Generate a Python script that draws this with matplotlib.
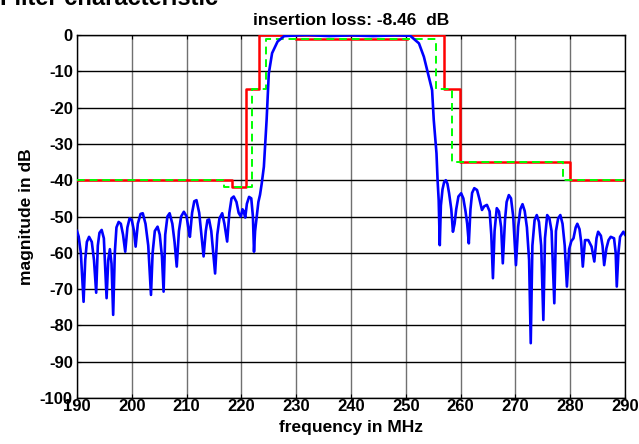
import numpy as np
import matplotlib
matplotlib.use('Agg')
import matplotlib.pyplot as plt

plt.rcParams['font.family'] = ['Liberation Sans', 'DejaVu Sans']
plt.rcParams['font.weight'] = 'bold'
plt.rcParams['axes.unicode_minus'] = False

# -------------------- data --------------------
# measured response (blue): frequency in MHz / magnitude in dB
freq = [190.0, 190.3, 190.7, 191.2, 191.5, 191.8, 192.2, 192.7, 193.1, 193.5,
        193.8, 194.1, 194.5, 194.9, 195.4, 195.7, 196.0, 196.3, 196.6, 196.9,
        197.2, 197.6, 198.0, 198.4, 198.8, 199.2, 199.6, 200.0, 200.4, 200.7,
        201.1, 201.6, 202.0, 202.5, 203.0, 203.5, 203.8, 204.2, 204.7, 205.1,
        205.5, 205.8, 206.1, 206.5, 206.9, 207.4, 207.8, 208.2, 208.6, 209.0,
        209.5, 210.0, 210.3, 210.6, 211.0, 211.4, 211.8, 212.3, 212.7, 213.1,
        213.5, 213.8, 214.1, 214.5, 215.2, 215.6, 216.0, 216.5, 216.9, 217.4,
        217.8, 218.2, 218.6, 219.1, 219.5, 219.9, 220.2, 220.4, 220.7, 221.0,
        221.4, 221.8, 222.1, 222.3, 222.5, 222.8, 223.1, 223.4, 223.7, 224.1,
        224.6, 225.0, 225.6, 226.6, 227.8, 229.0, 232.0, 236.0, 240.0, 244.0,
        248.0, 250.8, 252.4, 253.3, 254.2, 254.8, 255.1, 255.6, 255.8, 256.0,
        256.2, 256.4, 256.7, 257.0, 257.3, 257.6, 257.9, 258.3, 258.6, 258.9,
        259.2, 259.6, 260.1, 260.5, 260.9, 261.2, 261.5, 261.8, 262.1, 262.5,
        263.0, 263.4, 263.9, 264.3, 264.8, 265.3, 265.6, 265.9, 266.2, 266.6,
        267.0, 267.4, 267.7, 268.1, 268.4, 268.8, 269.2, 269.6, 270.1, 270.5,
        270.9, 271.3, 271.7, 272.1, 272.5, 272.8, 273.1, 273.5, 273.9, 274.3,
        274.7, 275.1, 275.4, 275.8, 276.2, 276.6, 277.1, 277.4, 277.8, 278.2,
        278.6, 279.0, 279.4, 279.8, 280.2, 280.6, 281.0, 281.3, 281.7, 282.0,
        282.3, 282.7, 283.3, 283.9, 284.4, 284.8, 285.1, 285.6, 285.9, 286.2,
        286.6, 287.0, 287.4, 288.0, 288.3, 288.5, 288.8, 289.1, 289.7, 290.0]
mag = [-54.0, -55.5, -60.0, -73.5, -62.0, -57.0, -55.6, -57.0, -62.0, -71.0,
       -58.0, -54.5, -53.7, -56.0, -72.5, -62.0, -59.0, -63.0, -77.1, -60.0,
       -53.0, -51.5, -52.0, -55.0, -59.7, -53.0, -50.5, -51.0, -54.0, -58.3,
       -52.0, -49.3, -49.1, -52.0, -58.0, -71.6, -60.0, -54.0, -52.8, -55.0,
       -61.0, -70.7, -55.0, -50.0, -49.1, -52.0, -57.0, -63.8, -54.0, -50.0,
       -48.7, -50.0, -53.0, -55.6, -49.0, -45.8, -45.5, -49.0, -55.0, -61.0,
       -54.0, -51.0, -50.8, -54.0, -65.7, -55.0, -50.5, -49.1, -52.0, -56.9,
       -49.0, -45.0, -44.5, -46.0, -49.0, -50.0, -48.0, -48.5, -50.3, -46.5,
       -44.6, -45.0, -50.0, -59.7, -54.0, -50.0, -46.0, -44.0, -41.0, -36.3,
       -23.4, -10.6, -5.0, -1.8, -0.3, -0.2, 0.0, -0.3, -0.1, -0.3,
       -0.1, -0.2, -2.3, -6.0, -11.5, -15.2, -23.4, -32.6, -40.0, -45.5,
       -57.9, -47.0, -42.5, -40.5, -40.0, -41.0, -43.6, -48.0, -54.2, -52.0,
       -48.0, -44.5, -43.6, -45.0, -48.6, -52.0, -57.4, -48.0, -43.5, -42.2,
       -42.7, -45.0, -48.2, -47.2, -46.8, -48.6, -55.0, -67.0, -54.0, -47.7,
       -48.6, -53.0, -62.9, -51.0, -46.0, -44.1, -45.0, -50.0, -63.4, -52.8,
       -48.0, -46.6, -48.5, -53.0, -62.0, -84.9, -58.0, -51.0, -49.6, -51.5,
       -58.0, -78.5, -56.0, -49.6, -50.5, -54.0, -73.9, -54.0, -50.5, -49.6,
       -52.0, -58.0, -69.3, -59.0, -56.8, -56.0, -53.0, -52.0, -53.5, -57.0,
       -63.8, -56.5, -56.5, -58.3, -62.4, -56.0, -54.2, -55.3, -58.0, -63.4,
       -58.8, -56.5, -55.6, -56.0, -60.0, -69.3, -60.0, -55.6, -54.2, -55.0]

# red mask (step edges)
red_f = [190, 218.2, 218.2, 220.8, 220.8, 223.3, 223.3, 256.9, 256.9, 259.9, 259.9, 279.9, 279.9, 290]
red_db = [-40, -40, -42, -42, -15, -15, 0, 0, -15, -15, -35, -35, -40, -40]
red_pass_f = [229.9, 250.2]
red_pass_db = [-1, -1]

# green dashed mask
grn_f = [190, 216.8, 216.8, 221.9, 221.9, 224.4, 224.4, 255.6, 255.6, 258.4, 258.4, 278.6, 278.6, 290]
grn_db = [-40, -40, -42, -42, -15, -15, -1, -1, -15, -15, -35, -35, -40, -40]

xticks = np.arange(190, 291, 10)
yticks = np.arange(-100, 1, 10)

# -------------------- plot --------------------
fig = plt.figure(figsize=(6.39, 4.44), dpi=100)
ax = fig.add_axes([77 / 639, 1 - 398 / 444, (625 - 77) / 639, (398 - 35) / 444])

ax.plot(red_f, red_db, color='#ff0000', lw=1.8, zorder=3)
ax.plot(red_pass_f, red_pass_db, color='#ff0000', lw=1.8, zorder=3)
ax.plot(grn_f, grn_db, color='#00ff00', lw=1.4, ls=(0, (4, 2.5)), zorder=4)
ax.plot(freq, mag, color='#0000ff', lw=1.9, zorder=5)

ax.set_xlim(190, 290)
ax.set_ylim(-100, 0)
ax.set_xticks(xticks)
ax.set_yticks(yticks)
ax.xaxis.grid(True, color='#707070', lw=1.0, ls='-')
ax.yaxis.grid(True, color='black', lw=1.0, ls='-')
ax.set_axisbelow(True)
ax.tick_params(direction='in', length=3, top=True, right=True, labelsize=12)
ax.tick_params(axis='x', pad=1)
ax.tick_params(axis='y', pad=3)
for lab in ax.get_xticklabels() + ax.get_yticklabels():
    lab.set_fontweight('bold')
for sp in ax.spines.values():
    sp.set_linewidth(1.0)

ax.set_xlabel('frequency in MHz', fontsize=12.5, fontweight='bold', labelpad=4)
ax.set_ylabel('magnitude in dB', fontsize=12.5, fontweight='bold', labelpad=4)
ax.set_title('insertion loss: -8.46  dB', fontsize=12.5, fontweight='bold', pad=7)

fig.text(0.0, 1 - 5 / 444, 'Filter characteristic', fontsize=17, fontweight='bold',
         va='baseline', ha='left')

fig.savefig('out.png', dpi=100)
